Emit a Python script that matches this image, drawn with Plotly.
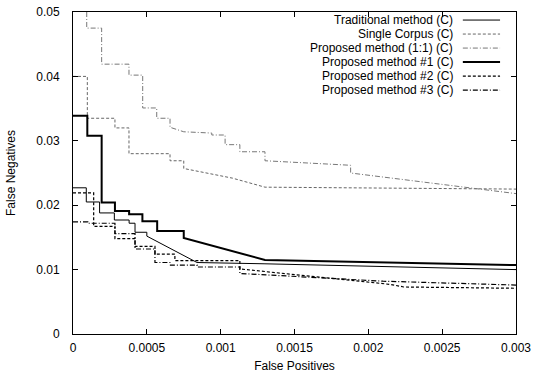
import plotly.graph_objects as go

# ---------------- data ----------------
trad_x = [0, 0.00009, 0.00009, 0.00018, 0.00018, 0.00028, 0.00028, 0.00038, 0.00038,
          0.00042, 0.00042, 0.0005, 0.0005, 0.00084, 0.0013, 0.003]
trad_y = [0.0227, 0.0227, 0.0205, 0.0205, 0.0188, 0.0188, 0.0177, 0.0177, 0.0172,
          0.0172, 0.0158, 0.0158, 0.0152, 0.0111, 0.0109, 0.0100]

single_x = [0, 0.000097, 0.000097, 0.000284, 0.000284, 0.000379, 0.000379, 0.000657,
            0.000657, 0.00075, 0.00075, 0.00108, 0.0013, 0.003]
single_y = [0.0400, 0.0400, 0.0335, 0.0335, 0.0320, 0.0320, 0.0280, 0.0280,
            0.0269, 0.0269, 0.0257, 0.0242, 0.0228, 0.0225]

p11_x = [0.000093, 0.000093, 0.000194, 0.000194, 0.000379, 0.000379, 0.000472, 0.000472,
         0.000567, 0.000567, 0.000657, 0.000657, 0.00075, 0.00094, 0.00094, 0.00103,
         0.00103, 0.00113, 0.00113, 0.0013, 0.0013, 0.00188, 0.00188, 0.003]
p11_y = [0.0500, 0.0475, 0.0475, 0.0419, 0.0419, 0.0402, 0.0402, 0.0351,
         0.0351, 0.0335, 0.0335, 0.0321, 0.0314, 0.0312, 0.0309, 0.0309,
         0.0294, 0.0294, 0.0283, 0.0283, 0.0269, 0.0262, 0.0250, 0.0218]

p1_x = [0, 0.000097, 0.000097, 0.000194, 0.000194, 0.000284, 0.000284, 0.00038, 0.00038,
        0.00047, 0.00047, 0.00057, 0.00057, 0.00075, 0.00075, 0.0013, 0.003]
p1_y = [0.0339, 0.0339, 0.0308, 0.0308, 0.0204, 0.0204, 0.0191, 0.0191, 0.0186,
        0.0186, 0.0175, 0.0175, 0.0160, 0.0160, 0.0149, 0.0115, 0.0107]

p2_x = [0, 0.00014, 0.00014, 0.000284, 0.000284, 0.00042, 0.00042, 0.000555, 0.000555,
        0.00069, 0.00069, 0.00113, 0.00113, 0.00176, 0.00215, 0.00224, 0.003]
p2_y = [0.0219, 0.0219, 0.0167, 0.0167, 0.0148, 0.0148, 0.0136, 0.0136, 0.0124,
        0.0124, 0.0114, 0.0114, 0.0101, 0.0086, 0.0077, 0.0073, 0.0071]

p3_x = [0, 0.0001, 0.0001, 0.000284, 0.000284, 0.00042, 0.00042, 0.000555, 0.000555,
        0.00066, 0.00066, 0.00084, 0.00084, 0.00113, 0.00113, 0.0021, 0.003]
p3_y = [0.0174, 0.0174, 0.0172, 0.0172, 0.0156, 0.0156, 0.0132, 0.0132, 0.0111,
        0.0111, 0.0107, 0.0107, 0.0104, 0.0104, 0.0094, 0.0082, 0.0076]

labels = ["Traditional method (C)", "Single Corpus (C)", "Proposed method (1:1) (C)",
          "Proposed method #1 (C)", "Proposed method #2 (C)", "Proposed method #3 (C)"]

x_ticks = [0, 0.0005, 0.001, 0.0015, 0.002, 0.0025, 0.003]
x_tick_text = ["0", "0.0005", "0.001", "0.0015", "0.002", "0.0025", "0.003"]
y_ticks = [0, 0.01, 0.02, 0.03, 0.04, 0.05]
y_tick_text = ["0", "0.01", "0.02", "0.03", "0.04", "0.05"]

# ---------------- styles ----------------
styles = [
    dict(color="#000000", width=1, dash="solid"),
    dict(color="#666666", width=1, dash="3px,2px"),
    dict(color="#777777", width=1, dash="5px,2px,1px,2px"),
    dict(color="#000000", width=2, dash="solid"),
    dict(color="#000000", width=1.2, dash="3px,2px"),
    dict(color="#000000", width=1.2, dash="5px,2px,1px,2px"),
]
series = [(trad_x, trad_y), (single_x, single_y), (p11_x, p11_y),
          (p1_x, p1_y), (p2_x, p2_y), (p3_x, p3_y)]

FONT = "Liberation Sans, Arial, Helvetica, sans-serif"

fig = go.Figure()
for (xs, ys), lab, st in zip(series, labels, styles):
    fig.add_trace(go.Scatter(x=xs, y=ys, mode="lines", name=lab, line=st,
                             showlegend=False))

# gnuplot-style key: right-aligned text with sample line on its right
row0 = 0.975
dy = 0.0435
for i, (lab, st) in enumerate(zip(labels, styles)):
    yy = row0 - i * dy
    fig.add_annotation(xref="paper", yref="paper", x=0.862, y=yy, text=lab,
                       showarrow=False, xanchor="right", yanchor="middle",
                       font=dict(family=FONT, size=12, color="#000000"))
    fig.add_shape(type="line", xref="paper", yref="paper", x0=0.880, x1=0.964,
                  y0=yy, y1=yy, line=st)

axis_common = dict(showline=True, linecolor="#000000", linewidth=1, mirror="ticks",
                   ticks="inside", ticklen=5, tickcolor="#000000", tickwidth=1,
                   showgrid=False, zeroline=False, automargin=False,
                   ticklabeloverflow="allow",
                   tickfont=dict(family=FONT, size=12, color="#000000"))

fig.update_layout(
    width=534, height=374,
    margin=dict(l=73, r=18, t=12, b=40),
    plot_bgcolor="white", paper_bgcolor="white",
    xaxis=dict(range=[0, 0.003], tickvals=x_ticks, ticktext=x_tick_text,
               title=dict(text="False Positives", standoff=7,
                          font=dict(family=FONT, size=12, color="#000000")),
               ticklabelstandoff=3, **axis_common),
    yaxis=dict(range=[0, 0.05], tickvals=y_ticks, ticktext=y_tick_text,
               title=dict(text="False Negatives", standoff=18,
                          font=dict(family=FONT, size=12, color="#000000")),
               ticklabelstandoff=10, **axis_common),
)

# remove the browser's default 8px body margin so the figure sits at the window corner
fig.write_html("out.html", config={"displayModeBar": False},
               post_script="document.body.style.margin='0px';")
